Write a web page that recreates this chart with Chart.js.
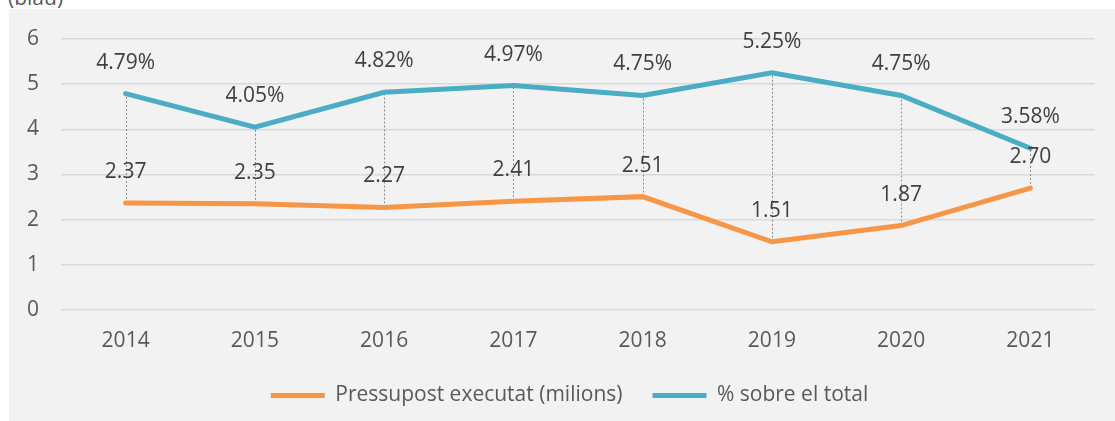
<!DOCTYPE html>
<html>
<head>
<meta charset="utf-8">
<script src="https://cdn.jsdelivr.net/npm/chart.js@4.4.0/dist/chart.umd.min.js"></script>
<style>
  html, body { margin: 0; padding: 0; background: #fff; }
  #wrap { position: relative; width: 1115px; height: 421px; overflow: hidden; }
  #bg { position: absolute; left: 9px; top: 9px; right: 0; bottom: 0; background: #f2f2f2; }
  #unit { position: absolute; left: 8px; top: -17px; font: 21px "Open Sans", sans-serif; color: #595959; }
  canvas { position: absolute; left: 0; top: 0; }
</style>
</head>
<body>
<div id="wrap">
  <div id="bg"></div>
  <div id="unit">(blau)</div>
  <canvas id="chart" width="1115" height="421"></canvas>
</div>
<script>
const years = ['2014', '2015', '2016', '2017', '2018', '2019', '2020', '2021'];
const budget = [2.37, 2.35, 2.27, 2.41, 2.51, 1.51, 1.87, 2.70];
const share = [4.79, 4.05, 4.82, 4.97, 4.75, 5.25, 4.75, 3.58];
const yTicks = [0, 1, 2, 3, 4, 5, 6];

const fontFamily = '"Open Sans", sans-serif';

// dotted lines linking the two series at each year
const dropLines = {
    id: 'dropLines',
    beforeDatasetsDraw(chart) {
        const a = chart.getDatasetMeta(0).data;
        const b = chart.getDatasetMeta(1).data;
        const ctx = chart.ctx;
        ctx.save();
        ctx.strokeStyle = '#8c8c8c';
        ctx.lineWidth = 1;
        ctx.setLineDash([2, 2]);
        a.forEach((p, i) => {
            const q = b[i];
            ctx.beginPath();
            ctx.moveTo(Math.round(p.x) + 0.5, p.y);
            ctx.lineTo(Math.round(p.x) + 0.5, q.y);
            ctx.stroke();
        });
        ctx.restore();
    }
};

const valueLabels = {
    id: 'valueLabels',
    afterDatasetsDraw(chart) {
        const ctx = chart.ctx;
        ctx.save();
        ctx.font = '21px ' + fontFamily;
        ctx.fillStyle = '#404040';
        ctx.textAlign = 'center';
        ctx.textBaseline = 'middle';
        chart.data.datasets.forEach((ds, di) => {
            chart.getDatasetMeta(di).data.forEach((p, i) => {
                const v = ds.data[i];
                const txt = di === 0 ? v.toFixed(2) : v.toFixed(2) + '%';
                ctx.fillText(txt, p.x, p.y - 31);
            });
        });
        ctx.restore();
    }
};

// legend sits a bit right of the canvas centre in the original
const legendShift = {
    id: 'legendShift',
    afterLayout(chart) {
        chart.legend.left += 22;
        chart.legend.right += 22;
    }
};

new Chart(document.getElementById('chart'), {
    type: 'line',
    data: {
        labels: years,
        datasets: [{
            label: 'Pressupost executat (milions)',
            data: budget,
            borderColor: '#f79646',
            backgroundColor: '#f79646',
            borderWidth: 5,
            pointRadius: 0,
            borderCapStyle: 'round',
            tension: 0
        }, {
            label: '% sobre el total',
            data: share,
            borderColor: '#4bacc6',
            backgroundColor: '#4bacc6',
            borderWidth: 5,
            pointRadius: 0,
            borderCapStyle: 'round',
            tension: 0
        }]
    },
    options: {
        responsive: false,
        animation: false,
        layout: { padding: { left: 0, right: 20, top: 39, bottom: 5 } },
        plugins: {
            tooltip: { enabled: false },
            legend: {
                position: 'bottom',
                labels: {
                    font: { family: fontFamily, size: 21 },
                    color: '#595959',
                    usePointStyle: true,
                    pointStyle: 'line',
                    pointStyleWidth: 54,
                    boxHeight: 5,
                    padding: 30
                }
            }
        },
        scales: {
            x: {
                offset: true,
                grid: { display: false },
                border: { display: false },
                ticks: { font: { family: fontFamily, size: 21 }, color: '#595959', padding: 10 },
                afterFit(scale) { scale.height = 45; }
            },
            y: {
                min: 0,
                max: 6,
                afterBuildTicks(scale) { scale.ticks = yTicks.map(v => ({ value: v })); },
                grid: { color: '#d9d9d9', lineWidth: 1.5, drawTicks: false },
                border: { display: false },
                ticks: { font: { family: fontFamily, size: 21 }, color: '#595959', padding: 22 },
                afterFit(scale) { scale.width = 61; }
            }
        }
    },
    plugins: [dropLines, valueLabels, legendShift]
});
</script>
</body>
</html>
